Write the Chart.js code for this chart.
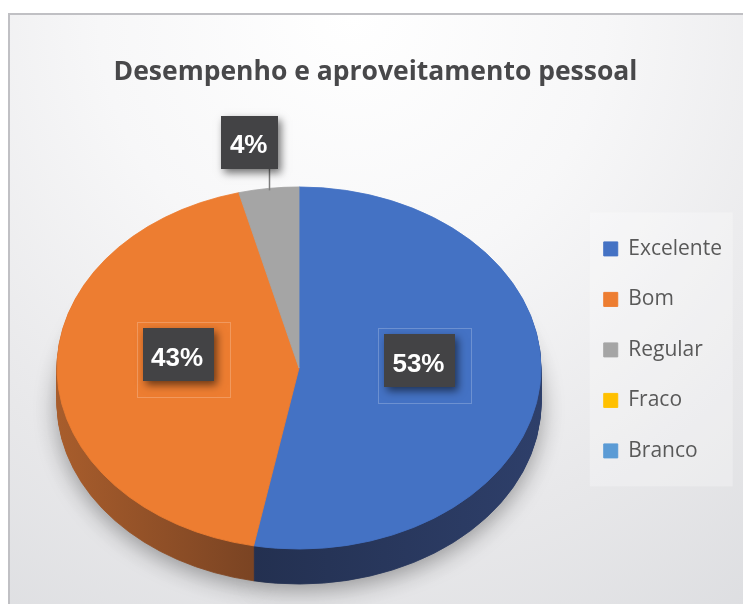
<!DOCTYPE html>
<html lang="pt">
<head>
<meta charset="utf-8">
<title>Desempenho e aproveitamento pessoal</title>
<script src="https://cdn.jsdelivr.net/npm/chart.js@4.4.1/dist/chart.umd.min.js"></script>
<style>
  html, body { margin: 0; padding: 0; width: 743px; height: 604px; overflow: hidden; background: #fff; }
  .moldura {
    position: absolute; left: 8px; top: 13px; width: 760px; height: 620px;
    border-left: 2px solid #c0c0c4; border-top: 2px solid #c0c0c4;
    background: radial-gradient(ellipse 95% 120% at 45% 0%, #ffffff 0%, #f7f7f8 35%, #e8e8ea 70%, #dcdde0 100%);
  }
  #grafico { position: absolute; left: 0; top: 0; }
</style>
</head>
<body>
<div class="moldura"></div>
<canvas id="grafico" width="743" height="604"></canvas>
<script>
// dados
const categorias = ['Excelente', 'Bom', 'Regular', 'Fraco', 'Branco'];
const percentuais = [53, 43, 4, 0, 0];
const cores = ['#4472C4', '#ED7D31', '#A5A5A5', '#FFC000', '#5B9BD5'];

// aparência da pizza "3D"
const CX = 299, CY = 368;      // centro da face superior
const ACHAT = 0.748;           // achatamento vertical
const PROF = 35;               // espessura
const RAIO = 242;

// cor da lateral de cada fatia (gradiente horizontal)
function corLateral(ctx, i, x0, x1) {
  const g = ctx.createLinearGradient(x0, 0, x1, 0);
  if (i === 0) {
    g.addColorStop(0.4, '#233050');
    g.addColorStop(1, '#2e3f6a');
  } else if (i === 1) {
    g.addColorStop(0, '#a85d2c');
    g.addColorStop(0.4, '#7b4423');
  } else {
    g.addColorStop(0, '#6e6e6e');
    g.addColorStop(1, '#6e6e6e');
  }
  return g;
}

function caixaRotulo(ctx, txt, cx, cy, contorno) {
  ctx.save();
  ctx.font = 'bold 26px "Liberation Sans", Arial, sans-serif';
  const w = Math.round(ctx.measureText(txt).width + 19), h = 53;
  const x = Math.round(cx - w / 2), y = Math.round(cy - h / 2);
  if (contorno) {
    ctx.strokeStyle = 'rgba(255,255,255,0.22)';
    ctx.lineWidth = 1;
    ctx.strokeRect(x - 5.5, y - 5.5, w + 22, h + 22);
  }
  ctx.save();
  ctx.shadowColor = 'rgba(0,0,0,0.55)';
  ctx.shadowBlur = 8;
  ctx.shadowOffsetX = 3;
  ctx.shadowOffsetY = 4;
  ctx.fillStyle = '#434345';
  ctx.fillRect(x, y, w, h);
  ctx.restore();
  ctx.fillStyle = '#ffffff';
  ctx.textAlign = 'center';
  ctx.textBaseline = 'alphabetic';
  ctx.fillText(txt, cx - 1, cy + 11);
  ctx.restore();
}

const pizza3d = {
  id: 'pizza3d',
  beforeDraw(chart) {
    // painel claro da legenda
    const lg = chart.legend;
    if (!lg || !lg.legendHitBoxes.length) return;
    const hb = lg.legendHitBoxes;
    const ctx = chart.ctx;
    ctx.save();
    ctx.fillStyle = 'rgba(255,255,255,0.28)';
    ctx.fillRect(hb[0].left - 14, hb[0].top - 26, 143, hb[hb.length - 1].top - hb[0].top + 72);
    ctx.restore();
  },
  beforeDatasetsDraw(chart) {
    const ctx = chart.ctx;
    const arcs = chart.getDatasetMeta(0).data;
    const a0 = arcs[0];
    ctx.save();
    ctx.translate(CX, CY);
    ctx.scale(1, ACHAT);
    ctx.translate(-a0.x, -a0.y);
    // lateral: a mesma fatia repetida para baixo
    for (let d = PROF; d > 0; d--) {
      ctx.save();
      ctx.translate(0, d / ACHAT);
      if (d === PROF) {
        ctx.shadowColor = 'rgba(0,0,0,0.35)';
        ctx.shadowBlur = 22;
        ctx.shadowOffsetY = 6;
      }
      arcs.forEach((arc, i) => {
        const c = corLateral(ctx, i, a0.x - a0.outerRadius, a0.x + a0.outerRadius);
        const fantasma = Object.create(arc);
        fantasma.options = Object.assign({}, arc.options, { backgroundColor: c, borderColor: c, borderWidth: 1 });
        fantasma.draw(ctx);
      });
      ctx.restore();
    }
    // a face superior é desenhada pelo Chart.js com a mesma transformação
  },
  afterDatasetsDraw(chart) {
    const ctx = chart.ctx;
    ctx.restore();
    const arcs = chart.getDatasetMeta(0).data;
    arcs.forEach((arc, i) => {
      if (!percentuais[i]) return;
      const meio = (arc.startAngle + arc.endAngle) / 2;
      const txt = percentuais[i] + '%';
      if (percentuais[i] >= 10) {
        const r = arc.outerRadius * 0.5;
        const x = CX + Math.cos(meio) * r;
        const y = CY + Math.sin(meio) * r * ACHAT - 16;
        caixaRotulo(ctx, txt, x, y, true);
      } else {
        const ex = CX + Math.cos(meio) * arc.outerRadius;
        const ey = CY + Math.sin(meio) * arc.outerRadius * ACHAT;
        ctx.save();
        ctx.strokeStyle = '#7f7f7f';
        ctx.lineWidth = 1.5;
        ctx.beginPath();
        ctx.moveTo(Math.round(ex) + 0.5, ey + 2);
        ctx.lineTo(Math.round(ex) + 0.5, ey - 20);
        ctx.stroke();
        ctx.restore();
        caixaRotulo(ctx, txt, ex - 19, ey - 46, false);
      }
    });
  }
};

const ctx = document.getElementById('grafico').getContext('2d');

const grafico = new Chart(ctx, {
  type: 'pie',
  data: {
    labels: categorias,
    datasets: [{
      data: percentuais,
      backgroundColor: cores,
      borderColor: cores,
      borderWidth: 1,
      radius: RAIO
    }]
  },
  options: {
    responsive: false,
    animation: false,
    layout: { padding: { left: 19, right: 11, top: 0, bottom: 9 } },
    plugins: {
      title: {
        display: true,
        text: 'Desempenho e aproveitamento pessoal',
        color: '#48484a',
        font: { family: '"Open Sans", "Noto Sans", sans-serif', size: 26.5, weight: 'bold' },
        padding: { top: 57, bottom: 16 }
      },
      legend: {
        position: 'right',
        fullSize: false,
        labels: {
          color: '#595959',
          font: { family: '"Open Sans", "Noto Sans", sans-serif', size: 21 },
          boxWidth: 14,
          boxHeight: 14,
          padding: 29.5
        }
      },
      tooltip: { enabled: false }
    }
  },
  plugins: [pizza3d]
});
</script>
</body>
</html>
